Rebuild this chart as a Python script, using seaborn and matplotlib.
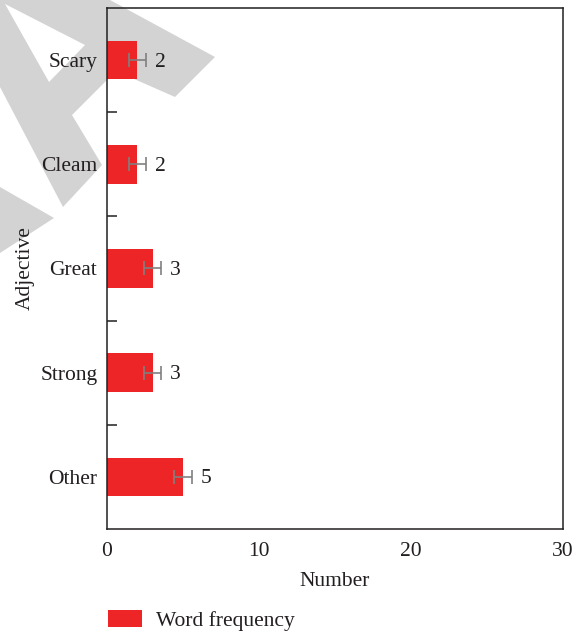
import numpy as np
import pandas as pd
import matplotlib
matplotlib.use("Agg")
import matplotlib.pyplot as plt
from matplotlib.patches import Polygon, Patch
import seaborn as sns

# --- data ---
adjectives = ["Scary", "Cleam", "Great", "Strong", "Other"]
counts = [2, 2, 3, 3, 5]
errors = [0.55, 0.55, 0.55, 0.55, 0.6]
x_ticks = [0, 10, 20, 30]

BAR_COLOR = "#ee2526"
ERR_COLOR = "#808080"
TEXT_COLOR = "#231f20"
FS = 15.5
W, H = 579, 633

sns.set_style("white")
plt.rcParams["font.family"] = ["Liberation Serif", "DejaVu Serif"]
plt.rcParams["text.color"] = TEXT_COLOR
plt.rcParams["axes.labelcolor"] = TEXT_COLOR
plt.rcParams["xtick.color"] = TEXT_COLOR
plt.rcParams["ytick.color"] = TEXT_COLOR

df = pd.DataFrame({"Adjective": adjectives, "Number": counts, "err": errors})

fig = plt.figure(figsize=(W / 100, H / 100), dpi=100)
fig.patch.set_facecolor("white")


def px(points):
    """pixel coords (top-left origin) -> figure fraction"""
    return [(x / W, 1 - y / H) for x, y in points]


# --- light grey watermark behind the chart ---
wm = "#d3d3d3"
outer = [(0, 0), (110, 0), (215, 57), (175, 97), (116, 71), (72, 115),
         (102, 165), (63, 207), (0, 87)]
hole = [(5, 4), (85, 45), (49, 82)]
foot = [(0, 187), (54, 218), (0, 253)]
fig.patches.append(Polygon(px(outer), closed=True, transform=fig.transFigure,
                           facecolor=wm, edgecolor="none", zorder=-2))
fig.patches.append(Polygon(px(hole), closed=True, transform=fig.transFigure,
                           facecolor="white", edgecolor="none", zorder=-1))
fig.patches.append(Polygon(px(foot), closed=True, transform=fig.transFigure,
                           facecolor=wm, edgecolor="none", zorder=-2))

ax = fig.add_axes([107 / W, 1 - 529 / H, (563 - 107) / W, (529 - 8) / H])
ax.set_facecolor("none")

sns.barplot(data=df, x="Number", y="Adjective", orient="h", color=BAR_COLOR,
            width=0.37, errorbar=None, saturation=1, linewidth=0, ax=ax)

ypos = np.arange(len(adjectives))
ax.errorbar(df["Number"], ypos, xerr=df["err"], fmt="none", ecolor=ERR_COLOR,
            elinewidth=1.2, capsize=5, capthick=1.2, zorder=3)

for y, (v, e) in enumerate(zip(counts, errors)):
    ax.annotate(str(v), xy=(v + e, y), xytext=(6.5, -1.5), textcoords="offset points",
                ha="left", va="center", fontsize=FS)

ax.set_xlim(0, 30)
ax.set_ylim(len(adjectives) - 0.5, -0.5)
ax.set_xticks(x_ticks)
ax.set_xticklabels([str(t) for t in x_ticks])
ax.set_yticks(ypos)
ax.set_yticks(ypos[:-1] + 0.5, minor=True)

ax.tick_params(axis="x", which="major", direction="in", length=7, width=1.1,
               labelsize=FS, pad=9)
ax.tick_params(axis="y", which="major", length=0, labelsize=FS, pad=7)
ax.tick_params(axis="y", which="minor", direction="in", length=7, width=1.1, left=True)

for side in ["left", "right", "top", "bottom"]:
    ax.spines[side].set_visible(True)
    ax.spines[side].set_color(TEXT_COLOR)
    ax.spines[side].set_linewidth(1.1)

ax.set_xlabel("Number", fontsize=FS, labelpad=8)
ax.set_ylabel("Adjective", fontsize=FS, labelpad=4)

fig.legend(handles=[Patch(facecolor=BAR_COLOR, edgecolor="none", label="Word frequency")],
           loc="center left", bbox_to_anchor=(108 / W, 1 - 620.5 / H),
           frameon=False, fontsize=FS, handlelength=1.6, handleheight=0.8,
           handletextpad=0.65, borderpad=0, borderaxespad=0)

fig.savefig("out.png", dpi=100, facecolor="white")
